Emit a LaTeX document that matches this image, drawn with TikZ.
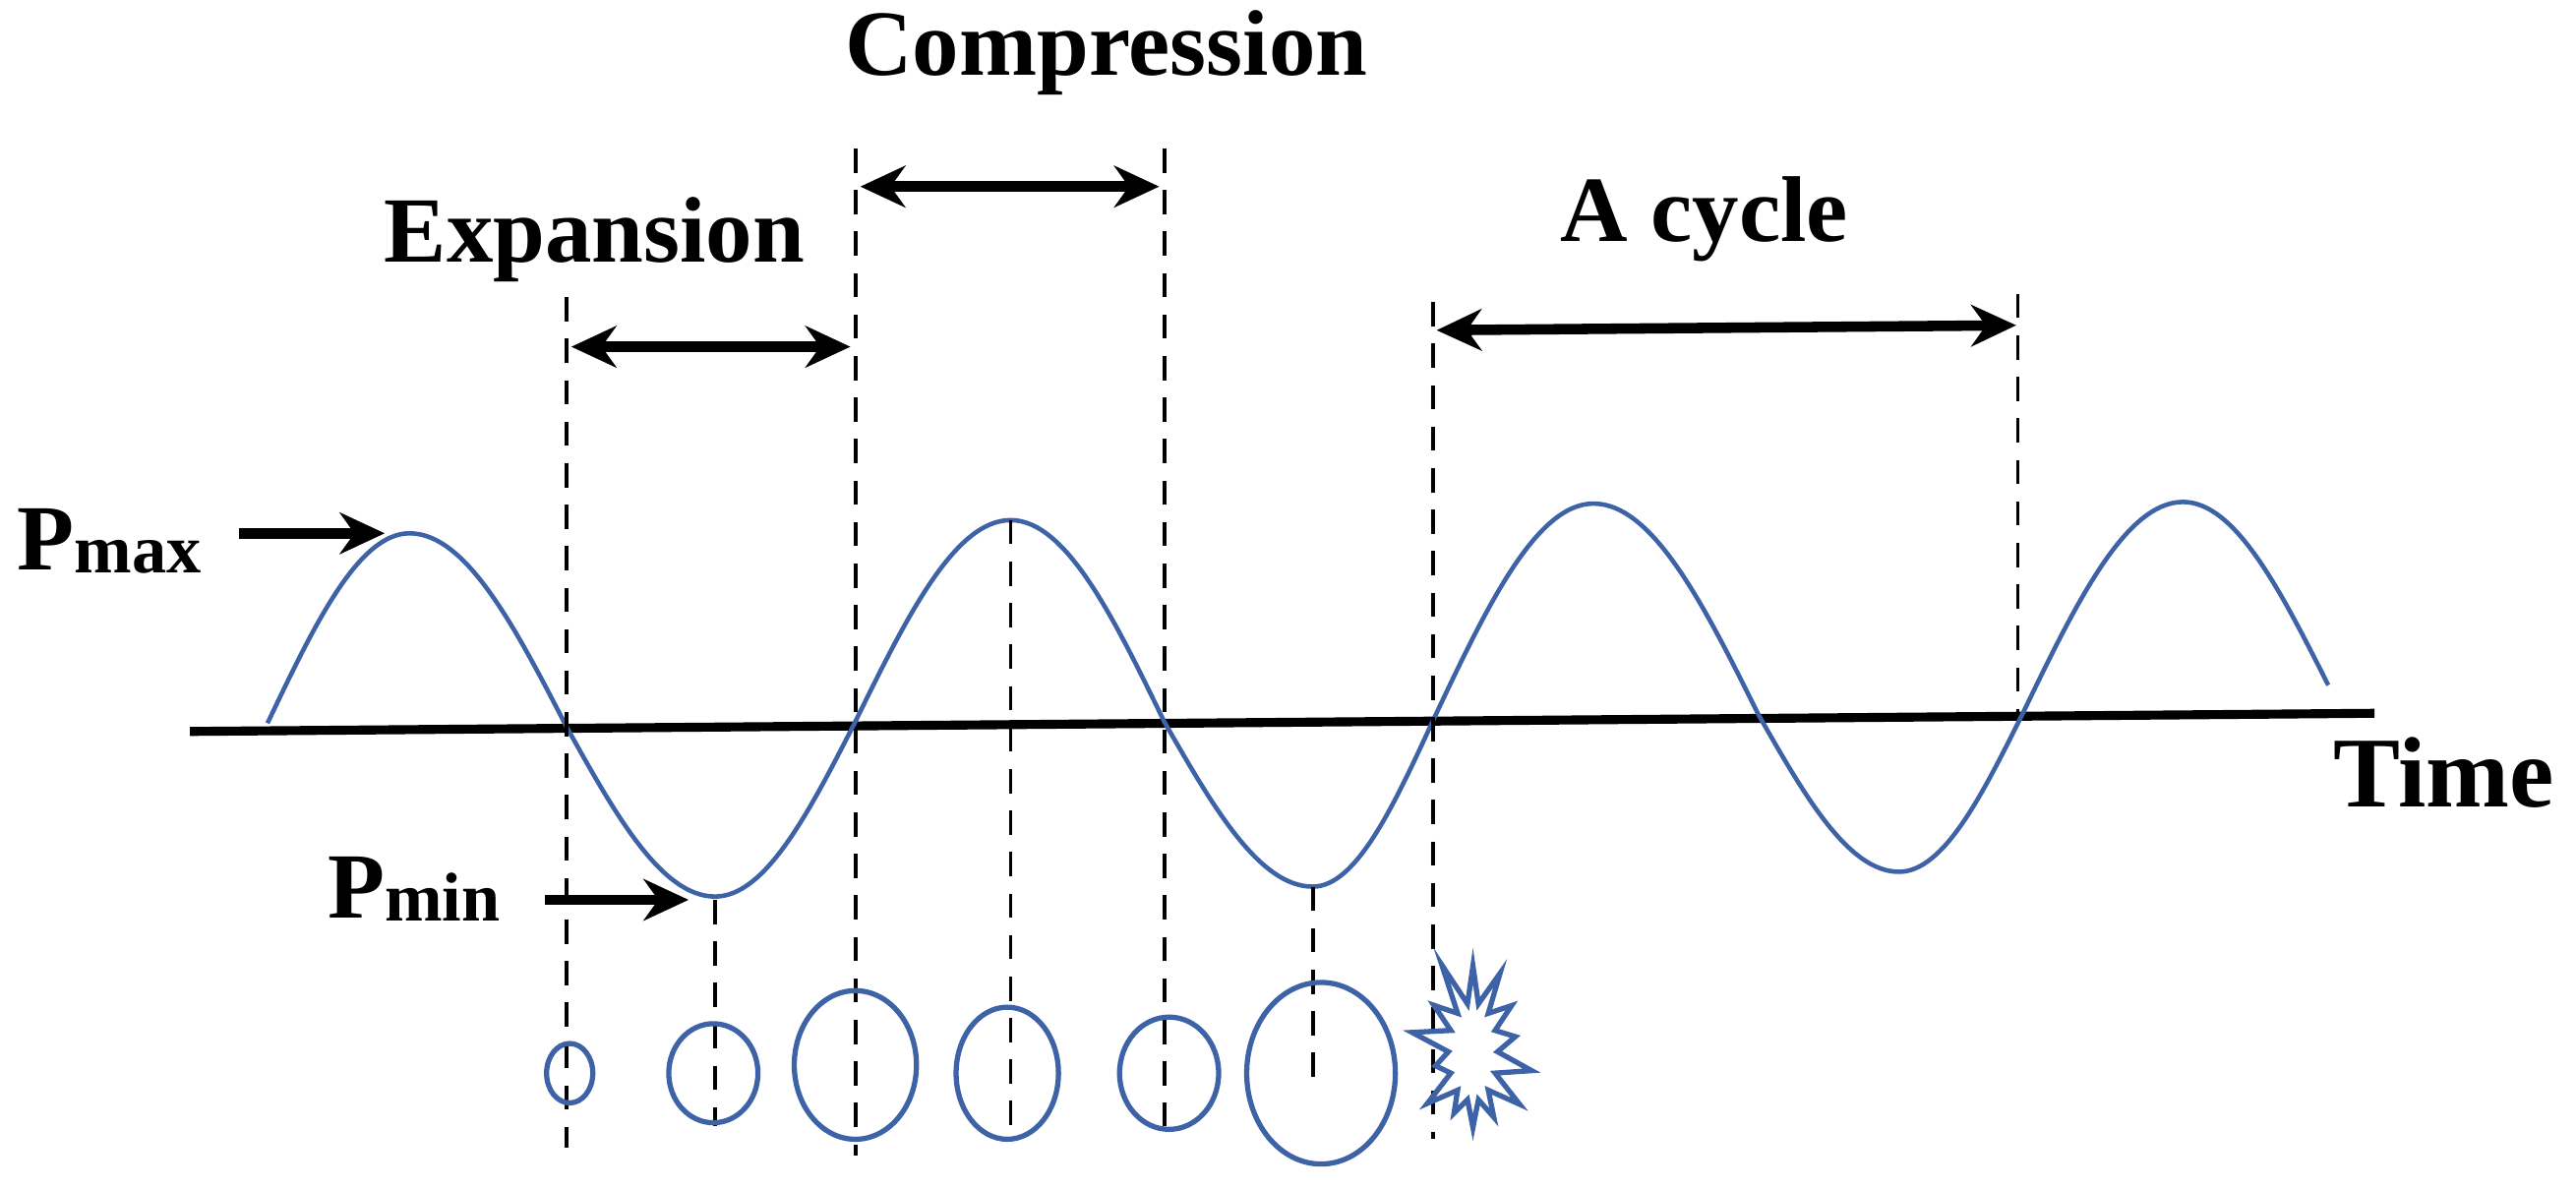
\documentclass[tikz,border=0pt]{standalone}
\usepackage{fontspec}
\setmainfont{Liberation Serif}
\usetikzlibrary{arrows.meta,shapes.symbols}
\definecolor{wave}{HTML}{3D62A6}
\tikzset{
  lbl/.style={font=\bfseries\fontsize{27}{30}\selectfont, inner sep=0pt},
  dsh/.style={draw=black, line width=1.1pt, dash pattern=on 7pt off 5pt},
  dbl/.style={line width=3pt, {Stealth[length=13pt,width=12pt]}-{Stealth[length=13pt,width=12pt]}},
  ptr/.style={line width=3pt, -{Stealth[length=13pt,width=12pt]}},
  bub/.style={draw=wave, line width=1.5pt}
}
\begin{document}
\begin{tikzpicture}[x=0.016788cm,y=-0.016788cm]
\useasboundingbox (0,0) rectangle (1560,720);
\coordinate (ax1) at (115,443); \coordinate (ax2) at (1438,432);
\draw[line width=2.6pt] (ax1) -- (ax2);
\draw[wave, line width=1.3pt] (162,438) sin (248,323) cos (343,440) sin (433,543) cos (518,437)
  sin (612,315) cos (705,437) sin (795,537) cos (868,436) sin (965,305) cos (1065,433)
  sin (1150,528) cos (1225,432) sin (1322,304) cos (1410,415);
\foreach \n/\x/\a/\b in {d1/343/180/695, d2/518/90/700, d3/705/90/682, d4/868/183/690,
  d5/1222/178/432, d6/433/545/682, d7/612/315/690, d8/795/537/655}{
  \coordinate (\n t) at (\x,\a); \coordinate (\n b) at (\x,\b);
  \draw[dsh] (\n t) -- (\n b);
}
\coordinate (e1) at (346,210); \coordinate (e2) at (515,210);
\draw[dbl] (e1) -- (e2);
\coordinate (c1) at (521,113); \coordinate (c2) at (702,113);
\draw[dbl] (c1) -- (c2);
\coordinate (y1) at (870,200); \coordinate (y2) at (1221,197);
\draw[dbl] (y1) -- (y2);
\node[lbl] (comp) at (670,32) {Compression};
\node[lbl] (exp) at (360,145) {Expansion};
\node[lbl] (cyc) at (1032,133) {A cycle};
\node[lbl,font=\bfseries\fontsize{29}{32}\selectfont] (time) at (1480,468) {Time};
\node[lbl,anchor=base west] (pmax) at (10,345) {P\raisebox{-1pt}{\fontsize{20}{22}\selectfont max}};
\node[lbl,anchor=base west] (pmin) at (198,556) {P\raisebox{-1pt}{\fontsize{20}{22}\selectfont min}};
\coordinate (pmaxs) at (145,323); \coordinate (pmaxt) at (233,323);
\coordinate (pmins) at (330,545); \coordinate (pmint) at (417,545);
\draw[ptr] (pmaxs) -- (pmaxt);
\draw[ptr] (pmins) -- (pmint);
\draw[bub] (345,650) ellipse [x radius=14, y radius=18];
\draw[bub] (432,650) ellipse [x radius=27, y radius=30];
\draw[bub] (518,645) ellipse [x radius=37, y radius=45];
\draw[bub] (610,650) ellipse [x radius=31, y radius=40];
\draw[bub] (708,650) ellipse [x radius=30, y radius=34];
\draw[bub] (800,650) ellipse [x radius=45, y radius=55];
\node[bub, starburst, starburst points=14, starburst point height=0.5cm,
  minimum width=1.5cm, minimum height=2.0cm, random starburst=11, inner sep=0pt] (burst) at (892,637) {};
\end{tikzpicture}
\end{document}
